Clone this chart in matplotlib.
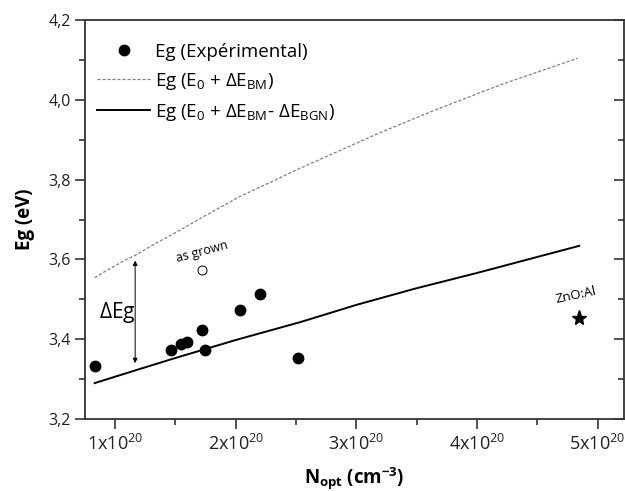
import numpy as np
import matplotlib
matplotlib.use("Agg")
import matplotlib.pyplot as plt
from matplotlib.lines import Line2D
from matplotlib.ticker import MultipleLocator, FuncFormatter

plt.rcParams['font.family'] = ['Open Sans', 'DejaVu Sans']
plt.rcParams['mathtext.fontset'] = 'custom'
plt.rcParams['mathtext.rm'] = 'Open Sans'
plt.rcParams['mathtext.it'] = 'Open Sans'
plt.rcParams['mathtext.bf'] = 'Open Sans:bold'

# experimental points (N_opt in 1e20 cm^-3, Eg in eV)
n_exp = [0.83, 1.465, 1.55, 1.595, 1.717, 1.748, 2.038, 2.202, 2.514]
eg_exp = [3.333, 3.373, 3.388, 3.392, 3.423, 3.373, 3.473, 3.513, 3.353]

# as grown sample
n_grown = [1.717]
eg_grown = [3.573]

# ZnO:Al reference
n_zno = [4.848]
eg_zno = [3.452]

# E0 + dE_BM curve
n_bm = [0.83, 0.9, 1.0, 1.08, 1.166, 1.3, 1.5, 1.75, 2.024, 2.25, 2.5, 2.827, 3.2, 3.658, 4.2, 4.835]
eg_bm = [3.554, 3.567, 3.584, 3.598, 3.61, 3.634, 3.667, 3.71, 3.756, 3.788, 3.824, 3.868,
         3.918, 3.975, 4.038, 4.104]

# E0 + dE_BM - dE_BGN curve
n_bgn = [0.83, 1.2, 1.5, 2.0, 2.537, 3.0, 3.49, 4.0, 4.848]
eg_bgn = [3.29, 3.325, 3.353, 3.398, 3.443, 3.486, 3.527, 3.566, 3.634]

fig = plt.figure(figsize=(6.25, 4.91), dpi=100)
ax = fig.add_axes([0.136, 0.1466, 0.8625, 0.8127])

ax.plot(n_bm, eg_bm, color="#808080", lw=0.9, ls=(0, (2.5, 1.5)))
ax.plot(n_bgn, eg_bgn, color="black", lw=1.4)
ax.plot(n_exp, eg_exp, "o", color="black", ms=7.5, ls="none")
ax.plot(n_grown, eg_grown, "o", mfc="white", mec="black", mew=0.7, ms=6.5, ls="none")
ax.plot(n_zno, eg_zno, "*", color="black", ms=11, ls="none")

# delta Eg arrow
ax.annotate("", xy=(1.166, 3.34), xytext=(1.166, 3.597),
            arrowprops=dict(arrowstyle="<|-|>", color="black", lw=0.7,
                            mutation_scale=7, shrinkA=0, shrinkB=0))
ax.text(1.015, 3.467, r"$\Delta$Eg", fontsize=15, ha="center", va="center")
ax.text(1.72, 3.62, "as grown", fontsize=9, ha="center", va="center", rotation=15)
ax.text(4.82, 3.51, "ZnO:Al", fontsize=9.5, ha="center", va="center", rotation=12)

ax.set_xlim(0.75, 5.22)
ax.set_ylim(3.2, 4.2)

ax.xaxis.set_major_locator(MultipleLocator(1))
ax.xaxis.set_minor_locator(MultipleLocator(0.5))
ax.yaxis.set_major_locator(MultipleLocator(0.2))
ax.yaxis.set_minor_locator(MultipleLocator(0.1))
ax.xaxis.set_major_formatter(FuncFormatter(lambda v, p: r"%dx10$^{20}$" % round(v)))
ax.yaxis.set_major_formatter(FuncFormatter(lambda v, p: ("%.1f" % v).replace(".", ",")))

ax.tick_params(axis="both", which="major", direction="out", length=7, width=1.2,
               colors="#333333", labelcolor="#222222")
ax.tick_params(axis="y", which="major", labelsize=11.5, pad=3)
ax.tick_params(axis="x", which="major", labelsize=13, pad=4)
ax.tick_params(axis="both", which="minor", direction="out", length=4, width=1.2, colors="#333333")
ax.tick_params(axis="y", which="both", right=True, labelright=False)
for s in ax.spines.values():
    s.set_linewidth(1.3)
    s.set_color("#333333")

# right ticks point inward
for t in ax.yaxis.get_major_ticks() + ax.yaxis.get_minor_ticks():
    t.tick2line.set_marker(matplotlib.lines.TICKLEFT)

ax.set_xlabel(r"N$_{\mathbf{opt}}$ (cm$^{\mathbf{-3}}$)", fontsize=13.5, fontweight="bold", labelpad=8)
ax.set_ylabel("Eg (eV)", fontsize=13.5, fontweight="bold", labelpad=10)

handles = [
    Line2D([], [], marker="o", color="black", ms=7.5, ls="none"),
    Line2D([], [], color="#808080", lw=0.9, ls=(0, (2.5, 1.5))),
    Line2D([], [], color="black", lw=1.4),
]
labels = [
    "Eg (Expérimental)",
    r"Eg (E$_0$ + $\Delta$E$_{BM}$)",
    r"Eg (E$_0$ + $\Delta$E$_{BM}$- $\Delta$E$_{BGN}$)",
]
ax.legend(handles, labels, loc="upper left", bbox_to_anchor=(-0.02, 1.0), frameon=False,
          fontsize=13.5, handlelength=2.8, handletextpad=0.3, labelspacing=0.52,
          borderaxespad=0.45, borderpad=0.78)

fig.savefig("out.png", dpi=100)
